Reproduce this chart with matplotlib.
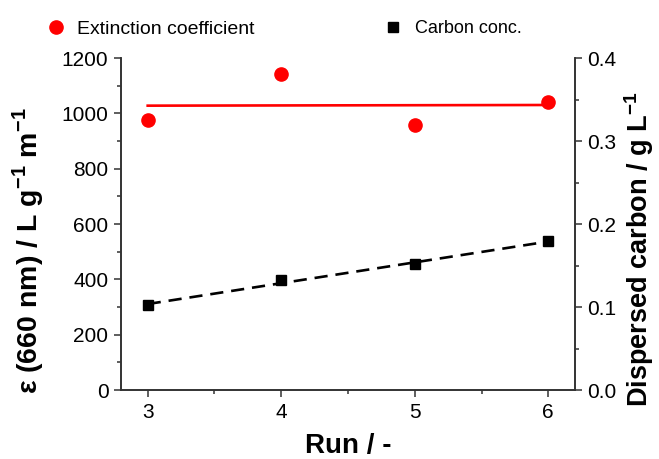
import numpy as np
import matplotlib
matplotlib.use("Agg")
import matplotlib.pyplot as plt
from matplotlib.ticker import MultipleLocator

plt.rcParams['font.family'] = ['Liberation Sans', 'DejaVu Sans']
plt.rcParams['mathtext.fontset'] = 'custom'
plt.rcParams['mathtext.rm'] = 'Liberation Sans'
plt.rcParams['mathtext.bf'] = 'Liberation Sans:bold'

runs = [3, 4, 5, 6]
extinction = [976, 1142, 958, 1040]
carbon = [0.102, 0.132, 0.152, 0.179]

fig = plt.figure(figsize=(6.59, 4.59), dpi=100)
ax = fig.add_axes([0.1836, 0.1503, 0.6889, 0.7233])
ax2 = ax.twinx()

xs = np.array([3, 6])
p1 = np.polyfit(runs, extinction, 1)
p2 = np.polyfit(runs, carbon, 1)

ax.plot(xs, np.polyval(p1, xs), color='#ff0000', lw=1.9, zorder=2)
h1, = ax.plot(runs, extinction, 'o', color='#ff0000', ms=9.5, zorder=3, label='Extinction coefficient')
ax2.plot(xs, np.polyval(p2, xs), color='black', lw=1.9, ls=(0, (5, 3)), zorder=2)
h2, = ax2.plot(runs, carbon, 's', color='black', ms=7.5, zorder=3, label='Carbon conc.')

ax.set_xlim(2.8, 6.2)
ax.set_ylim(0, 1200)
ax2.set_ylim(0, 0.4)
ax.set_xticks(runs)
ax.xaxis.set_minor_locator(MultipleLocator(0.5))
ax.yaxis.set_major_locator(MultipleLocator(200))
ax.yaxis.set_minor_locator(MultipleLocator(100))
ax2.yaxis.set_major_locator(MultipleLocator(0.1))
ax2.yaxis.set_minor_locator(MultipleLocator(0.05))
ax2.yaxis.set_major_formatter(matplotlib.ticker.FormatStrFormatter('%.1f'))

for a in (ax, ax2):
    a.spines['top'].set_visible(False)
    for s in a.spines.values():
        s.set_color('#333333')
        s.set_linewidth(1.2)
    a.tick_params(which='major', length=5, width=1.1, color='#333333', labelsize=15, pad=4)
    a.tick_params(which='minor', length=3, width=1.1, color='#333333')

ax.set_xlabel('Run / -', fontsize=20, fontweight='bold', labelpad=8)
ax.set_ylabel(r'ε (660 nm) / L g$^{\mathbf{-1}}$ m$^{\mathbf{-1}}$', fontsize=20.5, fontweight='bold')
ax.yaxis.set_label_coords(-0.165, 0.42)
ax2.set_ylabel(r'Dispersed carbon / g L$^{\mathbf{-1}}$', fontsize=19.5, fontweight='bold')
ax2.yaxis.set_label_coords(1.104, 0.425)

fig.legend(handles=[h1], loc='center left', bbox_to_anchor=(0.04, 0.937), frameon=False,
           fontsize=14, handletextpad=0.5, handlelength=1.2)
fig.legend(handles=[h2], loc='center left', bbox_to_anchor=(0.556, 0.937), frameon=False,
           fontsize=13, handletextpad=0.6, handlelength=1.2)

fig.savefig('out.png', dpi=100)
